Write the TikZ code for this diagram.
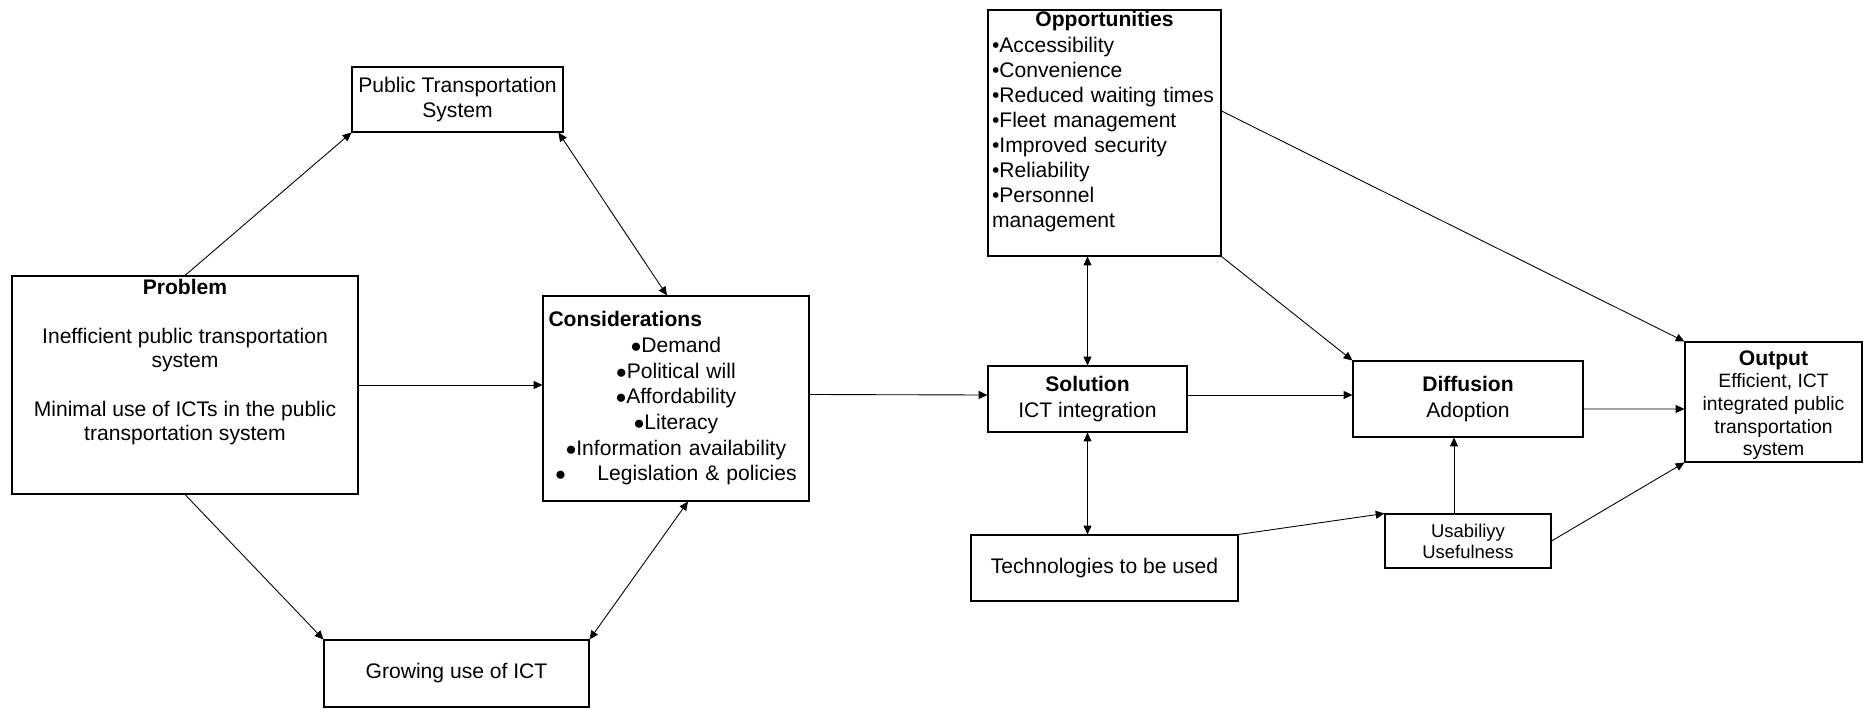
\documentclass[tikz,border=0pt]{standalone}
\usepackage{fontspec}
\setmainfont{Liberation Sans}
\usetikzlibrary{arrows.meta,calc}

\begin{document}
\begin{tikzpicture}[
  box/.style={draw, line width=0.6pt, align=center, inner sep=1pt, font=\fontsize{12}{14.4}\selectfont},
  txt/.style={inner sep=1pt, font=\fontsize{12}{13.8}\selectfont},
  >={Triangle[length=5pt,width=4.5pt]},
  line width=0.5pt]
\useasboundingbox (0,0) rectangle (37.26,14.16);

\node[box, minimum width=4.22cm, minimum height=1.30cm] (pts) at (9.15,12.17) {Public Transportation\\System};
\node[box, minimum width=6.92cm, minimum height=4.36cm] (prob) at (3.70,6.46) {};
\node[txt, anchor=north, align=center, yshift=-0.04cm] (probtxt) at (prob.north) {\textbf{Problem}\\[13.8pt]Inefficient public transportation\\system\\[13.8pt]Minimal use of ICTs in the public\\transportation system};
\node[box, minimum width=5.32cm, minimum height=4.10cm, text width=5.10cm, font=\fontsize{12}{14.6}\selectfont] (cons) at (13.52,6.19) {\makebox[5.10cm][l]{\textbf{Considerations}}\\$\bullet$Demand\\$\bullet$Political will\\$\bullet$Affordability\\$\bullet$Literacy\\$\bullet$Information availability\\$\bullet$\hspace{1.5em}Legislation \& policies};
\node[box, minimum width=5.30cm, minimum height=1.34cm] (grow) at (9.13,0.69) {Growing use of ICT};

\node[box, minimum width=4.66cm, minimum height=4.92cm] (opp) at (22.09,11.50) {};
\node[txt, anchor=north, text width=4.5cm, align=left, font=\fontsize{12}{14.3}\selectfont] (opptxt) at (opp.north) {\makebox[4.5cm]{\textbf{Opportunities}}\\•Accessibility\\•Convenience\\•Reduced waiting times\\•Fleet management\\•Improved security\\•Reliability\\•Personnel\\management};
\node[box, minimum width=3.98cm, minimum height=1.32cm, font=\fontsize{12}{14.8}\selectfont] (sol) at (21.75,6.18) {\textbf{Solution}\\ICT integration};
\node[box, minimum width=5.34cm, minimum height=1.32cm] (tech) at (22.09,2.80) {Technologies to be used};
\node[box, minimum width=4.60cm, minimum height=1.52cm, font=\fontsize{12}{14.8}\selectfont] (diff) at (29.36,6.18) {\textbf{Diffusion}\\Adoption};
\node[box, minimum width=3.32cm, minimum height=1.08cm, font=\fontsize{10.5}{12}\selectfont] (usab) at (29.36,3.34) {Usabiliyy\\Usefulness};
\node[box, minimum width=3.54cm, minimum height=2.40cm] (out) at (35.47,6.12) {};
\node[txt, align=center, font=\fontsize{11}{12.9}\selectfont, yshift=-0.06cm] (outtxt) at (out.center) {{\fontsize{12}{12.9}\selectfont\textbf{Output}}\\Efficient, ICT\\integrated public\\transportation\\system};

\draw[->] (prob.north) -- (pts.south west);
\draw[<->] ($(pts.south east)+(-0.1,0)$) -- ($(cons.north)+(-0.18,0)$);
\draw[->] (prob.south) -- (grow.north west);
\draw[<->] (grow.north east) -- ($(cons.south)+(0.24,0)$);
\draw[->] (prob.east) -- (prob.east -| cons.west);
\draw[->] ($(cons.east)+(0,0.08)$) -- ($(sol.west)+(0,0.08)$);
\draw[<->] (sol.north) -- (sol.north |- opp.south);
\draw[<->] (sol.south) -- (sol.south |- tech.north);
\draw[->] ($(sol.east)+(0,0.08)$) -- ($(diff.west)+(0,0.08)$);
\draw[->] (opp.south east) -- (diff.north west);
\draw[->] ($(opp.east)+(0,0.44)$) -- (out.north west);
\draw[->] ($(diff.east)+(0,-0.2)$) -- ($(out.west)+(0,-0.14)$);
\draw[->] (tech.north east) -- (usab.north west);
\draw[->] ($(usab.north)+(-0.28,0)$) -- ($(diff.south)+(-0.28,0)$);
\draw[->] (usab.east) -- (out.south west);
\end{tikzpicture}
\end{document}
